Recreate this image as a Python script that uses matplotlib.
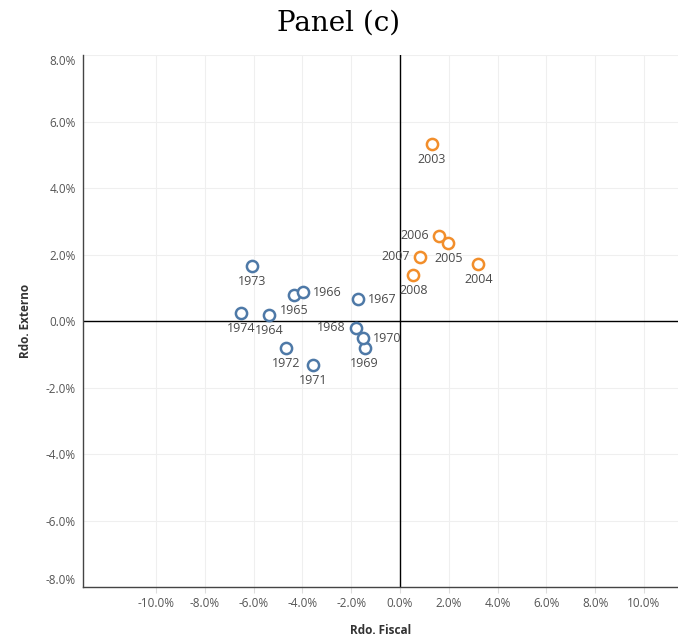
import matplotlib.pyplot as plt
import numpy as np

plt.rcParams['font.family'] = ['Open Sans', 'DejaVu Sans']

# --- data (percent) ---
years_60s = ['1964', '1965', '1966', '1967', '1968', '1969', '1970', '1971', '1972', '1973', '1974']
fiscal_60s = [-5.36, -4.33, -3.99, -1.71, -1.82, -1.45, -1.53, -3.55, -4.68, -6.05, -6.53]
externo_60s = [0.17, 0.78, 0.87, 0.66, -0.20, -0.82, -0.52, -1.32, -0.81, 1.66, 0.25]

years_00s = ['2003', '2004', '2005', '2006', '2007', '2008']
fiscal_00s = [1.31, 3.21, 1.98, 1.59, 0.82, 0.55]
externo_00s = [5.34, 1.73, 2.36, 2.56, 1.93, 1.40]

# where each label sits relative to its point
below = ['1964', '1965', '1969', '1971', '1972', '1973', '1974', '2003', '2004', '2005', '2008']
right = ['1966', '1967', '1970']
left = ['1968', '2006', '2007']

blue = '#4e79a7'
orange = '#f28e2b'

fig = plt.figure(figsize=(6.78, 6.4), dpi=100)
ax = fig.add_axes([0.1224, 0.0828, 0.8776, 0.831])

ax.scatter(fiscal_60s, externo_60s, s=65, facecolors='white', edgecolors=blue, linewidths=1.8, zorder=3)
ax.scatter(fiscal_00s, externo_00s, s=65, facecolors='white', edgecolors=orange, linewidths=1.8, zorder=3)

for yrs, xs, ys in [(years_60s, fiscal_60s, externo_60s), (years_00s, fiscal_00s, externo_00s)]:
    for yr, x, y in zip(yrs, xs, ys):
        if yr in below:
            off, ha, va = (0, -9), 'center', 'top'
        elif yr in right:
            off, ha, va = (10, 0), 'left', 'center'
        else:
            off, ha, va = (-10, 0), 'right', 'center'
        ax.annotate(yr, (x, y), xytext=off, textcoords='offset pixels',
                    ha=ha, va=va, fontsize=9, color='#4a4a4a', zorder=4)

ax.axhline(0, color='black', lw=1, zorder=2)
ax.axvline(0, color='black', lw=1, zorder=2)

ax.set_xlim(-13.0, 11.4)
ax.set_ylim(-8.0, 8.0)
ax.set_xticks(np.arange(-10, 11, 2))
ax.set_yticks(np.arange(-8, 9, 2))
ax.set_xticklabels([f'{v:.1f}%' for v in np.arange(-10, 11, 2)])
ylabels = ax.set_yticklabels([f'{v:.1f}%' for v in np.arange(-8, 9, 2)])
ylabels[0].set_va('bottom')
ylabels[-1].set_va('top')

ax.grid(True, color='#efefef', lw=0.8, zorder=0)
ax.tick_params(axis='both', labelsize=8.5, labelcolor='#555555', color='#dddddd', length=4)
ax.tick_params(axis='y', length=0, pad=5)
for s in ['top', 'right']:
    ax.spines[s].set_visible(False)
for s in ['left', 'bottom']:
    ax.spines[s].set_color('#444444')
    ax.spines[s].set_linewidth(1)

ax.set_xlabel('Rdo. Fiscal', fontsize=8.5, fontweight='bold', color='#333333', labelpad=10)
ax.set_ylabel('Rdo. Externo', fontsize=8.5, fontweight='bold', color='#333333', labelpad=10)

fig.suptitle('Panel (c)', fontsize=20, family=['DejaVu Serif'], y=0.985)

fig.savefig('out.png', dpi=100)
